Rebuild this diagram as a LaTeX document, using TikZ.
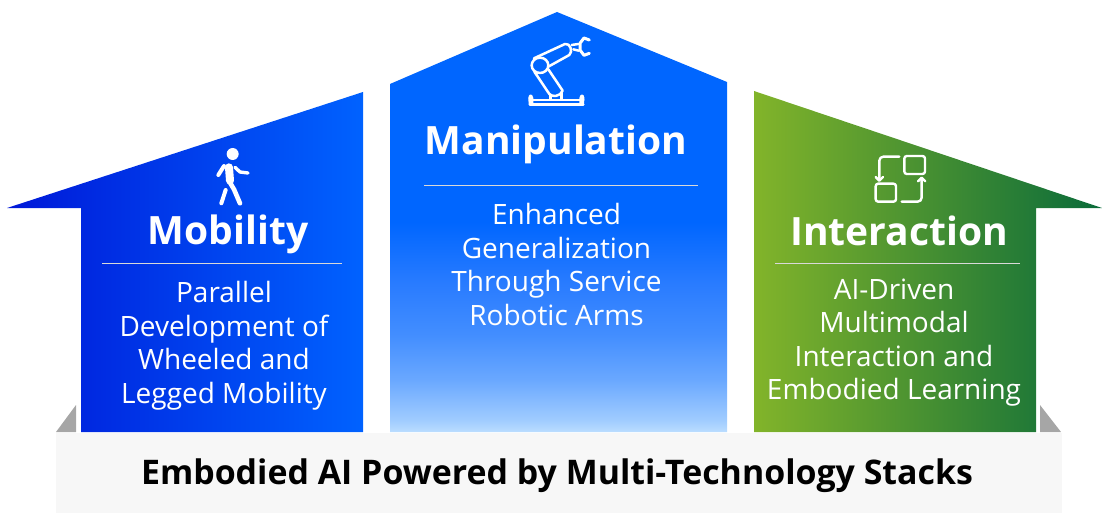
\documentclass[tikz,border=0pt]{standalone}
\usepackage{fontspec}
\setmainfont{Open Sans}
\usepackage{tikz}
\usetikzlibrary{arrows, arrows.meta, positioning}

\definecolor{mobleft}{HTML}{0018D8}
\definecolor{mobright}{HTML}{0062FF}
\definecolor{manblue}{HTML}{0066FF}
\definecolor{manfadea}{HTML}{BBDDFF}
\definecolor{manfadeb}{HTML}{A0CCFF}
\definecolor{manfadec}{HTML}{6AA8FF}
\definecolor{manfaded}{HTML}{438EFF}
\definecolor{manfadee}{HTML}{2A7CFF}
\definecolor{intleft}{HTML}{82B42A}
\definecolor{intright}{HTML}{0A6B3A}
\definecolor{basefill}{HTML}{F7F7F7}
\definecolor{wedgefill}{HTML}{A6A6A6}
\pgfdeclareverticalshading{manfade}{100bp}{color(0bp)=(manfadea); color(25bp)=(manfadea); color(26.4bp)=(manfadeb); color(31.2bp)=(manfadec); color(36.5bp)=(manfaded); color(42.5bp)=(manfadee); color(50bp)=(manblue); color(100bp)=(manblue)}

\begin{document}
\begin{tikzpicture}[x=1pt,y=-1pt,
        title/.style={text=white,font=\fontsize{39}{39}\selectfont\bfseries,inner sep=0pt,anchor=base},
        desc/.style={text=white,font=\fontsize{28}{33.5}\selectfont,align=center,inner sep=0pt},
        rule/.style={white!85!black,line width=0.8pt},
        icon/.style={white,line width=2.4pt,line cap=round,line join=round}]
    \useasboundingbox (0,0) rectangle (1102,513);

    % base and wedges
    \fill[basefill] (56,433) rectangle (1062,513);
    \fill[wedgefill] (56,432) -- (76,405) -- (76,432) -- cycle;
    \fill[wedgefill] (1040,405) -- (1061,432) -- (1040,432) -- cycle;
    \node[font=\fontsize{33.9}{34}\selectfont\bfseries,inner sep=0pt] (base_label) at (557,476) {Embodied AI Powered by Multi-Technology Stacks};

    % houses
    \shade[left color=mobleft,right color=mobright] (7,208) -- (363,92) -- (363,432) -- (81,432) -- (81,208) -- cycle;
    \shade[shading=manfade] (390,84) -- (557,12) -- (727,82) -- (727,432) -- (390,432) -- cycle;
    \shade[left color=intleft,right color=intright] (754,91) -- (1102,208) -- (1036,208) -- (1036,432) -- (754,432) -- cycle;

    % labels
    \node[title] (mob_title) at (228,244) {Mobility};
    \node[title] (man_title) at (556,155) {Manipulation};
    \node[title] (int_title) at (899,245) {Interaction};
    \node[desc] (mob_desc) at (224,345.5) {Parallel\\Development of\\Wheeled and\\Legged Mobility};
    \node[desc] (man_desc) at (556.5,264.5) {Enhanced\\Generalization\\Through Service\\Robotic Arms};
    \node[desc] (int_desc) at (894,342.5) {AI-Driven\\Multimodal\\Interaction and\\Embodied Learning};

    \coordinate (mob_l) at (102,263);
    \coordinate (mob_r) at (342,263);
    \coordinate (man_l) at (424,185.5);
    \coordinate (man_r) at (698,185.5);
    \coordinate (int_l) at (775,263);
    \coordinate (int_r) at (1020,263);
    \draw[rule] (mob_l) -- (mob_r);
    \draw[rule] (man_l) -- (man_r);
    \draw[rule] (int_l) -- (int_r);

    % walker
    \begin{scope}[shift={(190,140)},x=0.3333pt,y=-0.3333pt]
        \fill[white] (128,42) circle (18);
        \draw[icon,line width=8pt] (117,82) -- (120,122);
        \draw[icon,line width=4pt] (85,105) -- (102,78);
        \draw[icon,line width=3.4pt] (135,82) -- (150,96) -- (174,99);
        \draw[icon,line width=4pt] (107,150) -- (94,190);
        \draw[icon,line width=4.6pt] (120,128) -- (132,148) -- (150,190);
    \end{scope}

    % robot arm
    \begin{scope}[shift={(500,20)},x=0.3333pt,y=-0.3333pt,icon/.append style={line width=2.5pt}]
        \draw[icon] (120,136) ellipse (25 and 23);
        \draw[icon] (102,115) -- (195,72) .. controls (210,68) and (220,95) .. (208,105) -- (145,140);
        \draw[icon] (103,155) -- (148,222) .. controls (155,232) and (182,230) .. (188,212) -- (145,148);
        \draw[icon] (152,226) -- (152,238);
        \draw[icon] (184,218) -- (184,238);
        \draw[icon] (90,240) -- (250,240);
        \draw[icon] (90,254) -- (250,254);
        \draw[icon,rounded corners=2pt] (90,254) -- (88,228) -- (96,228) -- (96,254);
        \draw[icon,rounded corners=2pt] (248,254) -- (250,228) -- (242,228) -- (242,254);
        \draw[icon] (215,75) -- (235,72);
        \draw[icon] (220,88) -- (236,92);
        \draw[icon,line width=3pt] (268,60) -- (252,54) -- (240,70) -- (240,90) -- (252,106) -- (268,100);
    \end{scope}

    % interaction arrows
    \begin{scope}[shift={(860,145)},x=0.3333pt,y=-0.3333pt]
        \draw[icon,rounded corners=2.5pt] (133,33) rectangle (195,87);
        \draw[icon,rounded corners=2.5pt] (47,116) rectangle (108,170);
        \draw[icon,rounded corners=4pt] (118,35) -- (58,35) -- (58,104);
        \draw[icon] (47,96) -- (58,107) -- (69,96);
        \draw[icon,rounded corners=4pt] (125,170) -- (185,170) -- (185,101);
        \draw[icon] (174,109) -- (185,98) -- (196,109);
    \end{scope}
\end{tikzpicture}
\end{document}
